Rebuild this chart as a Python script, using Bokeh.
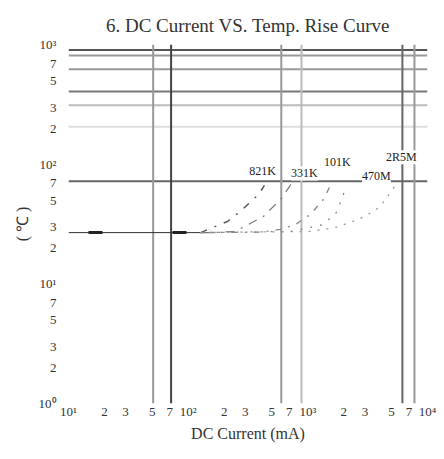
from bokeh.plotting import figure
from bokeh.models import FixedTicker, ColumnDataSource, LabelSet
from bokeh.embed import file_html
from bokeh.resources import INLINE

# ---- text ----
title_text = "6. DC Current VS. Temp. Rise Curve"
x_label = "DC Current (mA)"
y_label = "( ℃ )"

# ---- ticks ----
x_ticks = [10, 20, 30, 50, 70, 100, 200, 300, 500, 700, 1000, 2000, 3000, 5000, 7000, 10000]
x_tick_labels = ["10¹", "2", "3", "5", "7", "10²", "2", "3", "5", "7", "10³", "2", "3", "5", "7", "10⁴"]
y_ticks = [1, 2, 3, 5, 7, 10, 20, 30, 50, 70, 100, 200, 300, 500, 700, 1000]
y_tick_labels = ["10⁰", "2", "3", "5", "7", "10¹", "2", "3", "5", "7", "10²", "2", "3", "5", "7", "10³"]

# ---- grid lines as drawn in the chart ----
hgrid_values = [900, 810, 620, 405, 310, 205, 72]
hgrid_colors = ["#555555", "#9a9a9a", "#9a9a9a", "#777777", "#bbbbbb", "#dddddd", "#666666"]
vgrid_values = [51, 72, 600, 885, 6170, 7780]
vgrid_colors = ["#999999", "#444444", "#999999", "#bbbbbb", "#666666", "#999999"]

# ---- curves (DC current mA, temperature C) ----
base_x = [10, 127]
base_y = [26.8, 26.8]

c821k_x = [127, 213, 273, 387, 434]
c821k_y = [26.8, 33.2, 40.3, 55.8, 66.4]
c331k_x = [127, 163, 248, 426, 590, 743]
c331k_y = [26.8, 26.8, 27.4, 36.6, 50.7, 70.3]
c101k_x = [127, 400, 590, 787, 1050, 1350, 1545]
c101k_y = [26.8, 27.0, 28.5, 31.3, 38.0, 50.7, 66.4]
c470m_x = [127, 716, 1274, 1700, 2060]
c470m_y = [26.8, 27.4, 30.8, 38.0, 61.5]
c2r5m_x = [127, 1050, 1700, 2650, 3530, 4040, 4900, 5610]
c2r5m_y = [26.8, 27.4, 29.6, 34.5, 40.3, 44.4, 58.0, 70.3]

curve_names = ["821K", "331K", "101K", "470M", "2R5M"]
label_x = [418, 937, 1766, 3740, 6050]
label_y = [86.9, 83.6, 105, 78.9, 114]

SERIF = "Liberation Serif"

p = figure(width=444, height=459, x_axis_type="log", y_axis_type="log",
           x_range=(10, 10000), y_range=(1, 1000),
           output_backend="svg", toolbar_location=None,
           min_border_left=68, min_border_right=17, min_border_top=44, min_border_bottom=56)
p.outline_line_color = None
p.grid.grid_line_color = None

p.title.text = title_text
p.title.align = "center"
p.title.text_font = SERIF
p.title.text_font_size = "19px"
p.title.text_font_style = "normal"
p.title.text_color = "#333333"
p.title.standoff = 18

for ax in (p.xaxis[0], p.yaxis[0]):
    ax.axis_line_color = None
    ax.major_tick_line_color = None
    ax.minor_tick_line_color = None
    ax.major_label_text_font = SERIF
    ax.major_label_text_font_size = "13px"
    ax.major_label_text_color = "#333333"
    ax.axis_label_text_font = SERIF
    ax.axis_label_text_font_size = "16px"
    ax.axis_label_text_font_style = "normal"
    ax.axis_label_text_color = "#333333"

p.xaxis.ticker = FixedTicker(ticks=x_ticks, minor_ticks=[])
p.xaxis.major_label_overrides = {t: s for t, s in zip(x_ticks, x_tick_labels)}
p.yaxis.ticker = FixedTicker(ticks=y_ticks, minor_ticks=[])
p.yaxis.major_label_overrides = {t: s for t, s in zip(y_ticks, y_tick_labels)}
p.xaxis.axis_label = x_label
p.yaxis.axis_label = y_label
p.xaxis.major_label_standoff = -6
p.xaxis.axis_label_standoff = 3
p.yaxis.major_label_standoff = 6
p.yaxis.axis_label_standoff = 5

# grid lines
for v, c in zip(hgrid_values, hgrid_colors):
    p.line([x_ticks[0], x_ticks[-1]], [v, v], line_color=c, line_width=2)
for v, c in zip(vgrid_values, vgrid_colors):
    p.line([v, v], [y_ticks[0], y_ticks[-1]], line_color=c, line_width=2)

# baseline (common start of curves)
p.line(base_x, base_y, line_color="#333333", line_width=1)
p.line(base_x, base_y, line_color="#222222", line_width=3, line_dash="14 70", line_dash_offset=-20)

# curves
p.line(c821k_x, c821k_y, line_color="#555555", line_width=1.5, line_dash="7 8 2 8")
p.line(c331k_x, c331k_y, line_color="#777777", line_width=1.2, line_dash="9 7 2 7")
p.line(c101k_x, c101k_y, line_color="#888888", line_width=1.3, line_dash="2 7 6 7")
p.line(c470m_x, c470m_y, line_color="#888888", line_width=1.3, line_dash="2 8")
p.line(c2r5m_x, c2r5m_y, line_color="#999999", line_width=1.3, line_dash="2 7")

src = ColumnDataSource(dict(x=label_x, y=label_y, t=curve_names))
labels = LabelSet(x="x", y="y", text="t", source=src, text_align="center", text_baseline="middle",
                  text_font=SERIF, text_font_size="12px", text_color="#222222",
                  background_fill_color="white")
p.add_layout(labels)

open("out.html", "w").write(file_html(p, INLINE))
